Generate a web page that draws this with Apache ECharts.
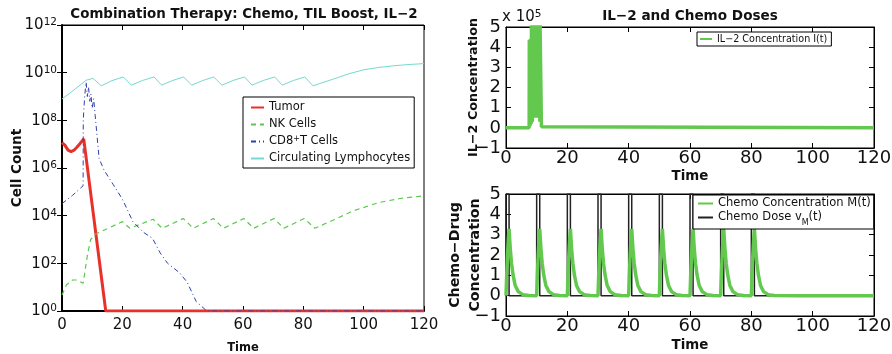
<!DOCTYPE html>
<html><head><meta charset="utf-8">
<script src="https://cdn.jsdelivr.net/npm/echarts@6/dist/echarts.min.js"></script>
<style>html,body{margin:0;padding:0;background:#fff}#c{width:892px;height:354px}</style>
</head><body><div id="c"></div>
<script>
const FONT = '"DejaVu Sans", "Liberation Sans", sans-serif';

// ---- Left panel: cell populations (log scale) ----
const tumorT = [0, 1, 2, 3, 4, 5, 6, 7.2, 14.5, 120];
const tumorV = [1.17e7, 8.9e6, 5.6e6, 4.9e6, 5.6e6, 7.6e6, 1.07e7, 1.66e7, 1, 1];

const nkT = [0, 1.5, 3.5, 5, 7, 8.5, 9.5, 11, 15, 20, 22.5, 30.2, 33.2, 40.2, 43.5, 50.2, 53.5, 60.3, 63.5, 70.3, 73.5, 80.3, 83.8, 90, 96.5, 105, 112, 120];
const nkV = [4.7, 12.6, 20, 20, 14.5, 251, 1000, 1660, 2820, 5620, 2950, 7080, 2950, 7590, 2950, 7590, 2950, 7590, 2950, 7590, 2950, 7590, 2950, 6600, 15850, 35480, 52500, 67600];

const cd8T = [0, 3.5, 7, 7.05, 7.5, 8, 8.4, 8.8, 9.2, 9.6, 10, 10.5, 11, 11.5, 12.3, 14, 17, 20, 23.5, 27, 30, 32.5, 35, 39, 41.5, 44.5, 48, 120];
const cd8V = [3.2e4, 7.1e4, 1.8e5, 1e8, 1e9, 4e9, 1e9, 2.5e9, 6.3e8, 1.26e9, 3.2e8, 8e8, 1.6e8, 3.2e7, 2.5e6, 7.9e5, 2e5, 5e4, 5600, 2000, 1120, 280, 100, 40, 16, 2.5, 1, 1];

const lymphT = [0, 4, 8, 10.3, 13, 16.5, 20.3, 23, 26.7, 30.5, 33, 36.7, 40.3, 43, 46.7, 50.3, 53, 56.7, 60.5, 63, 66.7, 70.5, 73, 76.7, 80.5, 83.2, 86, 90, 95, 100, 105, 110, 115, 120];
const lymphV = [7.8e8, 1.9e9, 4.8e9, 5.75e9, 2.8e9, 4.6e9, 6.6e9, 3.0e9, 4.7e9, 6.6e9, 3.0e9, 4.7e9, 6.6e9, 3.0e9, 4.7e9, 6.6e9, 3.0e9, 4.7e9, 6.6e9, 3.0e9, 4.7e9, 6.6e9, 3.0e9, 4.7e9, 6.6e9, 2.8e9, 3.7e9, 5.4e9, 8.9e9, 1.32e10, 1.66e10, 1.95e10, 2.2e10, 2.4e10];

// ---- Right top: IL-2 concentration ----
const il2T = [0, 7.55, 7.6, 7.9, 7.95, 8.25, 8.3, 8.6, 8.65, 8.95, 9.0, 9.3, 9.35, 9.65, 9.7, 10.0, 10.05, 10.35, 10.4, 10.7, 10.75, 11.05, 11.1, 11.55, 12, 120];
const il2V = [0, 0, 435000, 10000, 440000, 20000, 520000, 30000, 520000, 50000, 520000, 50000, 520000, 50000, 520000, 50000, 520000, 50000, 520000, 50000, 520000, 30000, 520000, 5000, 0, 0];

// ---- Right bottom: chemo concentration and dose ----
const chemoT = [
  0, 0.25, 0.5, 0.75, 1, 1.4, 1.8, 2.3, 3, 4, 5.5, 7.5,
  10, 10.25, 10.5, 10.75, 11, 11.4, 11.8, 12.3, 13, 14, 15.5, 17.5,
  20, 20.25, 20.5, 20.75, 21, 21.4, 21.8, 22.3, 23, 24, 25.5, 27.5,
  30, 30.25, 30.5, 30.75, 31, 31.4, 31.8, 32.3, 33, 34, 35.5, 37.5,
  40, 40.25, 40.5, 40.75, 41, 41.4, 41.8, 42.3, 43, 44, 45.5, 47.5,
  50, 50.25, 50.5, 50.75, 51, 51.4, 51.8, 52.3, 53, 54, 55.5, 57.5,
  60, 60.25, 60.5, 60.75, 61, 61.4, 61.8, 62.3, 63, 64, 65.5, 67.5,
  70, 70.25, 70.5, 70.75, 71, 71.4, 71.8, 72.3, 73, 74, 75.5, 77.5,
  80, 80.25, 80.5, 80.75, 81, 81.4, 81.8, 82.3, 83, 84, 85.5, 87.5,
  95, 120];
const chemoM = [
  0, 1.12, 2.01, 2.73, 3.29, 2.29, 1.60, 1.02, 0.50, 0.20, 0.05, 0.01,
  0, 1.12, 2.01, 2.73, 3.29, 2.29, 1.60, 1.02, 0.50, 0.20, 0.05, 0.01,
  0, 1.12, 2.01, 2.73, 3.29, 2.29, 1.60, 1.02, 0.50, 0.20, 0.05, 0.01,
  0, 1.12, 2.01, 2.73, 3.29, 2.29, 1.60, 1.02, 0.50, 0.20, 0.05, 0.01,
  0, 1.12, 2.01, 2.73, 3.29, 2.29, 1.60, 1.02, 0.50, 0.20, 0.05, 0.01,
  0, 1.12, 2.01, 2.73, 3.29, 2.29, 1.60, 1.02, 0.50, 0.20, 0.05, 0.01,
  0, 1.12, 2.01, 2.73, 3.29, 2.29, 1.60, 1.02, 0.50, 0.20, 0.05, 0.01,
  0, 1.12, 2.01, 2.73, 3.29, 2.29, 1.60, 1.02, 0.50, 0.20, 0.05, 0.01,
  0, 1.12, 2.01, 2.73, 3.29, 2.29, 1.60, 1.02, 0.50, 0.20, 0.05, 0.01,
  0, 0];
const doseT = [0, 0, 1, 1, 10, 10, 11, 11, 20, 20, 21, 21, 30, 30, 31, 31, 40, 40, 41, 41, 50, 50, 51, 51, 60, 60, 61, 61, 70, 70, 71, 71, 80, 80, 81, 81, 120];
const doseV = [0, 5, 5, 0, 0, 5, 5, 0, 0, 5, 5, 0, 0, 5, 5, 0, 0, 5, 5, 0, 0, 5, 5, 0, 0, 5, 5, 0, 0, 5, 5, 0, 0, 5, 5, 0, 0];

const timeMin = 0, timeMax = 120, timeStep = 20;

const pairs = (t, v) => t.map((x, i) => [x, v[i]]);
const MINUS = '\u2212';

function xAxisPair(gi, fs, margin, nameFs, nameGap, lw) {
  return [
    { gridIndex: gi, type: 'value', min: timeMin, max: timeMax, interval: timeStep, position: 'bottom',
      axisLine: { show: true, onZero: false, lineStyle: { color: '#000', width: lw } },
      axisTick: { show: true, inside: true, length: 5, lineStyle: { color: '#000' } },
      axisLabel: { color: '#111', fontSize: fs, fontFamily: FONT, margin: margin },
      splitLine: { show: false },
      name: 'Time', nameLocation: 'middle', nameGap: nameGap, nameMoveOverlap: false,
      nameTextStyle: { color: '#111', fontWeight: 'bold', fontSize: nameFs, fontFamily: FONT } },
    { gridIndex: gi, type: 'value', min: timeMin, max: timeMax, interval: timeStep, position: 'top',
      axisLine: { show: true, onZero: false, lineStyle: { color: '#000', width: 1 } },
      axisTick: { show: true, inside: true, length: 5, lineStyle: { color: '#000' } },
      axisLabel: { show: false }, splitLine: { show: false } }
  ];
}

const supRich = {
  b: { fontSize: 15, fontFamily: FONT, color: '#111', lineHeight: 16, padding: [5, 0, 0, 0], verticalAlign: 'bottom' },
  s: { fontSize: 10.5, fontFamily: FONT, color: '#111', lineHeight: 11, verticalAlign: 'top' }
};

const linFmt = v => String(Math.round(v)).replace('-', MINUS);

const legendCommon = {
  orient: 'vertical', selectedMode: false,
  backgroundColor: '#fff', borderColor: '#000', borderWidth: 1, borderRadius: 0,
  itemStyle: { opacity: 0, borderWidth: 0 }
};

const gridCommon = { show: true, borderColor: '#000', borderWidth: 1, containLabel: false, outerBoundsMode: 'none' };

const option = {
  animation: false,
  backgroundColor: '#fff',
  textStyle: { fontFamily: FONT },
  grid: [
    Object.assign({ left: 62, top: 25, width: 362, height: 286 }, gridCommon),
    Object.assign({ left: 506, top: 27, width: 368, height: 121 }, gridCommon),
    Object.assign({ left: 506, top: 194, width: 368, height: 122 }, gridCommon)
  ],
  xAxis: [].concat(
    xAxisPair(0, 15, 7, 11.5, 31, 2),
    xAxisPair(1, 18, 1, 13.4, 22, 1),
    xAxisPair(2, 18, 1, 13.4, 23, 1)
  ),
  yAxis: [
    { gridIndex: 0, type: 'log', logBase: 10, min: 1, max: 1e12, interval: 2, position: 'left',
      axisLine: { show: true, lineStyle: { color: '#000', width: 2 } },
      axisTick: { show: true, inside: true, length: 5, lineStyle: { color: '#000' } },
      axisLabel: { margin: 5, formatter: v => '{b|10}{s|' + Math.round(Math.log10(v)) + '}', rich: supRich },
      splitLine: { show: false }, minorTick: { show: false },
      name: 'Cell Count', nameLocation: 'middle', nameGap: 38, nameMoveOverlap: false,
      nameTextStyle: { color: '#111', fontWeight: 'bold', fontSize: 13.6, fontFamily: FONT } },
    { gridIndex: 0, type: 'log', logBase: 10, min: 1, max: 1e12, interval: 2, position: 'right',
      axisLine: { show: true, lineStyle: { color: '#000', width: 1 } },
      axisTick: { show: true, inside: true, length: 5, lineStyle: { color: '#000' } },
      axisLabel: { show: false }, splitLine: { show: false } },
    { gridIndex: 1, type: 'value', min: -100000, max: 500000, interval: 100000, position: 'left',
      axisLine: { show: true, onZero: false, lineStyle: { color: '#000', width: 1 } },
      axisTick: { show: true, inside: true, length: 5, lineStyle: { color: '#000' } },
      axisLabel: { color: '#111', fontSize: 18, fontFamily: FONT, margin: 5, formatter: v => linFmt(v / 100000) },
      splitLine: { show: false },
      name: 'IL\u22122 Concentration', nameLocation: 'middle', nameGap: 26, nameMoveOverlap: false,
      nameTextStyle: { color: '#111', fontWeight: 'bold', fontSize: 12.8, fontFamily: FONT } },
    { gridIndex: 1, type: 'value', min: -100000, max: 500000, interval: 100000, position: 'right',
      axisLine: { show: true, onZero: false, lineStyle: { color: '#000', width: 1 } },
      axisTick: { show: true, inside: true, length: 5, lineStyle: { color: '#000' } },
      axisLabel: { show: false }, splitLine: { show: false } },
    { gridIndex: 2, type: 'value', min: -1, max: 5, interval: 1, position: 'left',
      axisLine: { show: true, onZero: false, lineStyle: { color: '#000', width: 1 } },
      axisTick: { show: true, inside: true, length: 5, lineStyle: { color: '#000' } },
      axisLabel: { color: '#111', fontSize: 18, fontFamily: FONT, margin: 5, formatter: linFmt },
      splitLine: { show: false },
      name: 'Chemo\u2212Drug\nConcentration', nameLocation: 'middle', nameGap: 21, nameMoveOverlap: false,
      nameTextStyle: { color: '#111', fontWeight: 'bold', fontSize: 14.2, lineHeight: 20, fontFamily: FONT } },
    { gridIndex: 2, type: 'value', min: -1, max: 5, interval: 1, position: 'right',
      axisLine: { show: true, onZero: false, lineStyle: { color: '#000', width: 1 } },
      axisTick: { show: true, inside: true, length: 5, lineStyle: { color: '#000' } },
      axisLabel: { show: false }, splitLine: { show: false } }
  ],
  legend: [
    Object.assign({}, legendCommon, {
      data: ['Tumor', 'NK Cells', 'CD8+T Cells', 'Circulating Lymphocytes'],
      left: 243, top: 97, padding: [4, 4, 3, 7], itemGap: 4, itemWidth: 13, itemHeight: 10,
      formatter: n => n === 'CD8+T Cells' ? 'CD8{sup|+}T Cells' : n,
      textStyle: { fontSize: 11.5, lineHeight: 13, color: '#111', fontFamily: FONT,
        rich: { sup: { fontSize: 8, verticalAlign: 'top', lineHeight: 9, color: '#111', fontFamily: FONT } } } }),
    Object.assign({}, legendCommon, {
      data: ['IL\u22122 Concentration I(t)'],
      left: 697, top: 32, padding: [1, 4, 1, 2], itemGap: 2, itemWidth: 12, itemHeight: 8,
      textStyle: { fontSize: 9.6, lineHeight: 12, color: '#111', fontFamily: FONT } }),
    Object.assign({}, legendCommon, {
      data: ['Chemo Concentration M(t)', 'Chemo Dose vM(t)'],
      left: 693, top: 195, padding: [2, 3, 2, 4], itemGap: 1, itemWidth: 15, itemHeight: 10,
      formatter: n => n === 'Chemo Dose vM(t)' ? 'Chemo Dose v{sub|M}(t)' : n,
      textStyle: { fontSize: 11.5, lineHeight: 13, color: '#111', fontFamily: FONT,
        rich: { sub: { fontSize: 8, verticalAlign: 'bottom', lineHeight: 9, padding: [0, 0, -3, 0], color: '#111', fontFamily: FONT } } } })
  ],
  graphic: [
    { type: 'text', x: 244, y: 15, style: { text: 'Combination Therapy: Chemo, TIL Boost, IL\u22122', fontSize: 13.4, fontWeight: 'bold', fontFamily: FONT, fill: '#111', align: 'center', verticalAlign: 'middle' } },
    { type: 'text', x: 690, y: 16, style: { text: 'IL\u22122 and Chemo Doses', fontSize: 13.6, fontWeight: 'bold', fontFamily: FONT, fill: '#111', align: 'center', verticalAlign: 'middle' } },
    { type: 'text', x: 502, y: 17, style: { text: '{a|x 10}{s|5}', align: 'left', verticalAlign: 'middle',
        rich: { a: { fontSize: 15, fontFamily: FONT, fill: '#111', lineHeight: 16, padding: [4, 0, 0, 0], verticalAlign: 'bottom' },
                s: { fontSize: 10.5, fontFamily: FONT, fill: '#111', lineHeight: 11, verticalAlign: 'top' } } } }
  ],
  series: [
    { name: 'Tumor', type: 'line', xAxisIndex: 0, yAxisIndex: 0, symbol: 'none', z: 2,
      color: '#e8312b', lineStyle: { width: 3, color: '#e8312b' }, data: pairs(tumorT, tumorV) },
    { name: 'NK Cells', type: 'line', xAxisIndex: 0, yAxisIndex: 0, symbol: 'none', z: 3,
      color: '#58c94c', lineStyle: { width: 1.2, color: '#58c94c', type: [5, 4] }, data: pairs(nkT, nkV) },
    { name: 'CD8+T Cells', type: 'line', xAxisIndex: 0, yAxisIndex: 0, symbol: 'none', z: 4,
      color: '#2e3fae', lineStyle: { width: 1, color: '#2e3fae', type: [5, 3, 1, 3] }, data: pairs(cd8T, cd8V) },
    { name: 'Circulating Lymphocytes', type: 'line', xAxisIndex: 0, yAxisIndex: 0, symbol: 'none', z: 5,
      color: '#76d8d0', lineStyle: { width: 1, color: '#76d8d0' }, data: pairs(lymphT, lymphV) },
    { name: 'IL\u22122 Concentration I(t)', type: 'line', xAxisIndex: 2, yAxisIndex: 2, symbol: 'none',
      color: '#62c94e', lineStyle: { width: 3.5, color: '#62c94e' }, data: pairs(il2T, il2V) },
    { name: 'Chemo Dose vM(t)', type: 'line', xAxisIndex: 4, yAxisIndex: 4, symbol: 'none', z: 2,
      color: '#222', lineStyle: { width: 1.5, color: '#222' }, data: pairs(doseT, doseV) },
    { name: 'Chemo Concentration M(t)', type: 'line', xAxisIndex: 4, yAxisIndex: 4, symbol: 'none', z: 3,
      color: '#62c94e', lineStyle: { width: 3.5, color: '#62c94e' }, data: pairs(chemoT, chemoM) }
  ]
};

const chart = echarts.init(document.getElementById('c'));
chart.setOption(option);
</script>
</body></html>
